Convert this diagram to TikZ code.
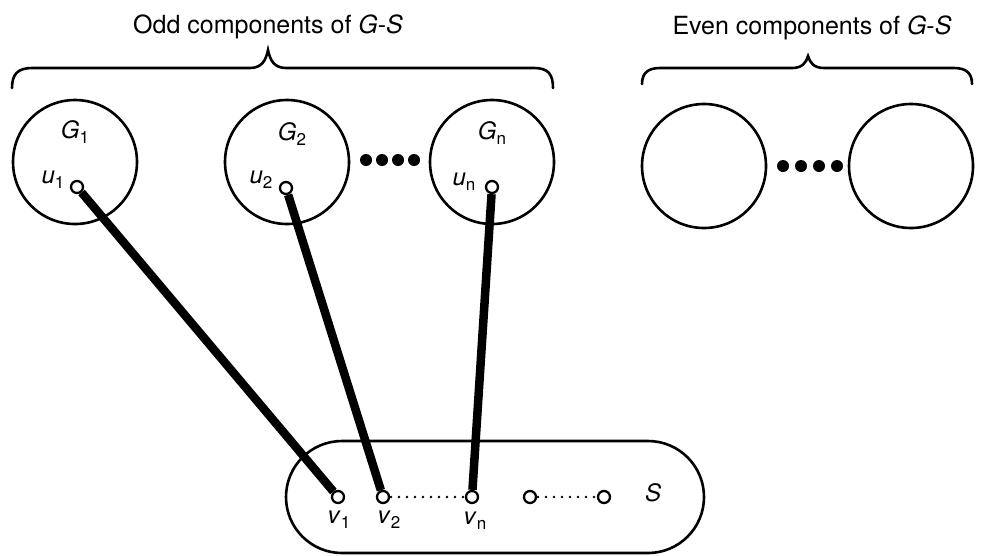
\documentclass[tikz,border=0pt]{standalone}
\usepackage{fontspec}
\setmainfont{TeX Gyre Heros}
\newcommand\mysb[1]{\raisebox{-0.22em}{\fontsize{17}{18}\selectfont #1}}
\begin{document}
\begin{tikzpicture}[x=1pt,y=-1pt,
  comp/.style={draw,circle,line width=2.6pt,minimum size=124pt,inner sep=0pt},
  vtx/.style={draw,circle,line width=2.3pt,minimum size=12pt,inner sep=0pt,fill=white},
  bigdot/.style={fill,circle,inner sep=0pt,minimum size=12pt},
  match/.style={line width=8.5pt},
  dots/.style={line width=2.6pt,line cap=round,dash pattern=on 0pt off 8pt},
  lbl/.style={font=\fontsize{24}{28}\selectfont,inner sep=0pt},
  ttl/.style={font=\fontsize{25}{29}\selectfont,inner sep=0pt},
  brace/.style={line width=2.6pt,line cap=round}]
\useasboundingbox (0,0) rectangle (992,555);
% titles
\node[ttl] (todd) at (268,27) {Odd components of \textit{G}-\textit{S}};
\node[ttl] (teven) at (812,28) {Even components of \textit{G}-\textit{S}};
% braces
\draw[brace] (12,88) .. controls (12,74) and (18,68) .. (32,68) -- (250,68)
  .. controls (262,68) and (266,60) .. (268,50)
  .. controls (270,60) and (274,68) .. (286,68) -- (534,68)
  .. controls (548,68) and (553,74) .. (553,88);
\draw[brace] (642,84) .. controls (642,73) and (648,68) .. (660,68) -- (792,68)
  .. controls (802,68) and (806,63) .. (808,56)
  .. controls (810,63) and (814,68) .. (824,68) -- (954,68)
  .. controls (966,68) and (972,73) .. (972,84);
% components
\node[comp] (G1) at (75,162) {};
\node[comp] (G2) at (287,162) {};
\node[comp] (Gn) at (492,162) {};
\node[comp] (E1) at (704,166) {};
\node[comp] (E2) at (911,166) {};
\node[lbl] (lG1) at (75,132) {\textit{G}\mysb{1}};
\node[lbl] (lG2) at (292,134) {\textit{G}\mysb{2}};
\node[lbl] (lGn) at (492,133) {\textit{G}\mysb{n}};
% dots
\foreach \i in {0,1,2,3} {
  \node[bigdot] (d\i) at (366+\i*16,160) {};
  \node[bigdot] (e\i) at (783+\i*18,166) {};
}
% S region
\node[draw,line width=2.6pt,rounded corners=56pt,minimum width=418pt,minimum height=112pt,inner sep=0pt] (S) at (495,497) {};
\node[lbl] (lS) at (653,493) {\textit{S}};
% vertices
\node[vtx] (u1) at (77,187) {};
\node[vtx] (u2) at (286,188) {};
\node[vtx] (un) at (492,187) {};
\node[vtx] (v1) at (338,497) {};
\node[vtx] (v2) at (383,497) {};
\node[vtx] (vn) at (472,497) {};
\node[vtx] (w1) at (530,497) {};
\node[vtx] (w2) at (604,497) {};
\node[lbl] (lu1) at (53,180) {\textit{u}\mysb{1}};
\node[lbl] (lu2) at (261,180) {\textit{u}\mysb{2}};
\node[lbl] (lun) at (464,182) {\textit{u}\mysb{n}};
\node[lbl] (lv1) at (339,520) {\textit{v}\mysb{1}};
\node[lbl] (lv2) at (389,520) {\textit{v}\mysb{2}};
\node[lbl] (lvn) at (475,521) {\textit{v}\mysb{n}};
% matching edges
\draw[match] (u1) -- (v1);
\draw[match] (u2) -- (v2);
\draw[match] (un) -- (vn);
% dotted
\draw[dots] ([xshift=8pt]v2.center) -- ([xshift=-8pt]vn.center);
\draw[dots] ([xshift=8pt]w1.center) -- ([xshift=-8pt]w2.center);
\end{tikzpicture}
\end{document}
